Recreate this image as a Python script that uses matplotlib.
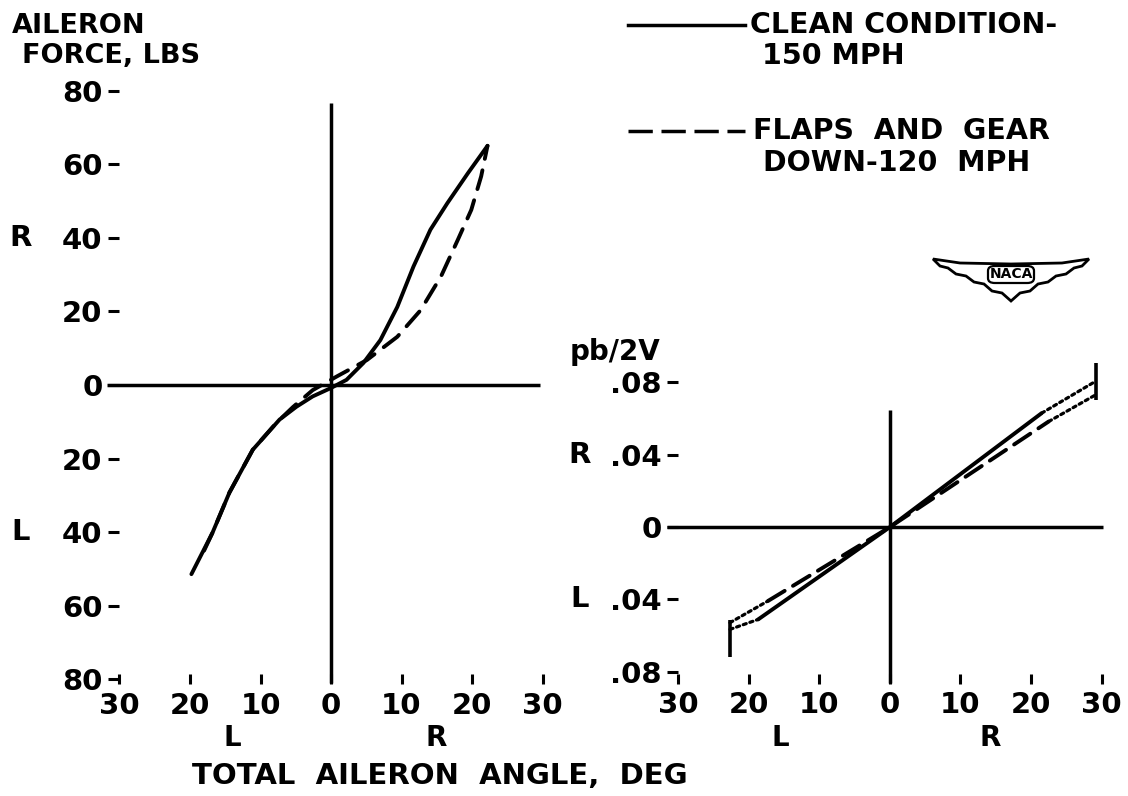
import matplotlib.pyplot as plt
from matplotlib.lines import Line2D
from matplotlib.patches import Polygon, FancyBboxPatch

plt.rcParams['font.family'] = ['DejaVu Sans']
plt.rcParams['font.weight'] = 'bold'

# ---- data ----
# left: aileron force (lb) vs total aileron angle (deg), L negative / R positive
clean_angle = [-19.8, -16.8, -14.4, -11.1, -7.3, -4.9, -2.6, -0.1, 2.2, 4.6, 7.0, 9.4, 11.7, 14.1, 16.5, 19.4, 22.2]
clean_force = [-51.4, -40.1, -29.2, -17.6, -9.4, -5.9, -3.1, -0.9, 1.4, 6.0, 12.2, 21.2, 32.2, 42.2, 49.4, 57.5, 65.0]
flaps_angle = [-18.0, -16.8, -14.4, -11.1, -7.8, -5.4, -2.6, 0.8, 5.1, 9.4, 12.7, 15.6, 18.0, 19.9, 21.3, 22.2]
flaps_force = [-45.0, -40.1, -29.2, -17.6, -10.4, -6.0, -1.4, 2.3, 6.8, 13.1, 20.3, 29.5, 39.5, 47.6, 56.7, 65.0]

# right: pb/2V vs total aileron angle, measured range + dotted extension to max deflection
clean_pb_angle = [-18.7, 0.0, 21.5]
clean_pb = [-0.0510, 0.0, 0.0628]
clean_ext_angle = [[-22.7, -18.7], [21.5, 29.2]]
clean_ext_pb = [[-0.0565, -0.0510], [0.0628, 0.0805]]
flaps_pb_angle = [-17.3, 0.0, 22.5]
flaps_pb = [-0.0408, 0.0, 0.0582]
flaps_ext_angle = [[-22.7, -17.3], [22.5, 29.2]]
flaps_ext_pb = [[-0.0528, -0.0408], [0.0582, 0.0730]]
max_defl = [-22.7, 29.2]
max_lo = [-0.0720, 0.0701]
max_hi = [-0.0515, 0.0904]

x_ticks = [-30, -20, -10, 0, 10, 20, 30]
x_labels = ['30', '20', '10', '0', '10', '20', '30']
force_ticks = [80, 60, 40, 20, 0, -20, -40, -60, -80]
force_labels = ['80', '60', '40', '20', '0', '20', '40', '60', '80']
pb_ticks = [0.08, 0.04, 0.0, -0.04, -0.08]
pb_labels = ['.08', '.04', '0', '.04', '.08']

W, H = 1128, 796
fig = plt.figure(figsize=(W / 100, H / 100), dpi=100)


def place(x0, sx, y0, sy, xlim, ylim):
    # axes rect from pixel origin + pixels per unit
    left = x0 + sx * xlim[0]
    right = x0 + sx * xlim[1]
    top = y0 - sy * ylim[1]
    bottom = y0 - sy * ylim[0]
    ax = fig.add_axes([left / W, 1 - bottom / H, (right - left) / W, (bottom - top) / H])
    ax.set_xlim(xlim)
    ax.set_ylim(ylim)
    ax.patch.set_visible(False)
    return ax


def style(ax, xspine, yspine, yticks, ylabels):
    for s in ax.spines.values():
        s.set_visible(False)
    ax.spines['left'].set_position(('data', xspine))
    ax.spines['bottom'].set_position(('data', yspine))
    ax.set_xticks(x_ticks, x_labels)
    ax.set_yticks(yticks, ylabels)
    ax.tick_params(axis='x', direction='out', length=7.5, width=2.2, pad=5, labelsize=21)
    ax.tick_params(axis='y', direction='out', length=7.8, width=2.2, pad=4.5, labelsize=21)


lw = 2.8

# ---- left chart ----
ax1 = place(331, 7.05, 385, 3.68, (-34, 32), (-90, 82))
style(ax1, -30, -78.6, force_ticks, force_labels)
ax1.hlines(0, -31.8, 29.6, color='black', lw=2.5)
ax1.vlines(0, -81, 76.6, color='black', lw=2.5)
ax1.plot(clean_angle, clean_force, color='black', lw=lw, solid_capstyle='round', solid_joinstyle='round')
ax1.plot(flaps_angle, flaps_force, color='black', lw=lw, dashes=(5, 3), dash_capstyle='round')
ax1.text(-44, 40, 'R', fontsize=21, ha='center', va='center')
ax1.text(-44, -40, 'L', fontsize=21, ha='center', va='center')

# ---- right chart ----
ax2 = place(890, 7.05, 527, 1812, (-34, 32), (-0.09, 0.1))
style(ax2, -30, -0.081, pb_ticks, pb_labels)
ax2.hlines(0, -31.6, 30.2, color='black', lw=2.5)
ax2.vlines(0, -0.086, 0.0646, color='black', lw=2.5)
ax2.plot(clean_pb_angle, clean_pb, color='black', lw=lw, solid_capstyle='round')
ax2.plot(flaps_pb_angle, flaps_pb, color='black', lw=lw, dashes=(5, 2.5), dash_capstyle='round')
for xs, ys in zip(clean_ext_angle + flaps_ext_angle, clean_ext_pb + flaps_ext_pb):
    ax2.plot(xs, ys, color='black', lw=2.3, dashes=(1, 1.2), dash_capstyle='round')
ax2.vlines(max_defl, max_lo, max_hi, color='black', lw=2.6)
ax2.text(-44, 0.04, 'R', fontsize=21, ha='center', va='center')
ax2.text(-44, -0.04, 'L', fontsize=21, ha='center', va='center')


def ftext(x, y, s, **kw):
    fig.text(x / W, 1 - y / H, s, va='center', **kw)


# axis titles
ftext(12, 26, 'AILERON', fontsize=19.5)
ftext(22, 56, 'FORCE, LBS', fontsize=19.5)
ftext(615, 352, 'pb/2V', fontsize=20, ha='center')
ftext(232, 738, 'L', fontsize=20, ha='center')
ftext(436, 738, 'R', fontsize=20, ha='center')
ftext(780, 738, 'L', fontsize=20, ha='center')
ftext(990, 738, 'R', fontsize=20, ha='center')
ftext(440, 776, 'TOTAL  AILERON  ANGLE,  DEG', fontsize=21, ha='center')

# legend
fig.add_artist(Line2D([628 / W, 745 / W], [1 - 25 / H, 1 - 25 / H], color='black', lw=2.5))
fig.add_artist(Line2D([628 / W, 745 / W], [1 - 131 / H, 1 - 131 / H], color='black', lw=2.5,
                      dashes=(7, 2.5)))
ftext(750, 25, 'CLEAN CONDITION-', fontsize=20.5)
ftext(762, 56, '150 MPH', fontsize=20.5)
ftext(753, 131, 'FLAPS  AND  GEAR', fontsize=20.5)
ftext(763, 163, 'DOWN-120  MPH', fontsize=20.5)

# NACA wing badge
wing = [(933, 259), (960, 263), (1011, 264), (1062, 263), (1089, 259), (1082, 266), (1074, 268),
        (1066, 274), (1056, 276), (1048, 282), (1038, 284), (1030, 291), (1020, 293), (1011, 301),
        (1002, 293), (992, 291), (984, 284), (974, 282), (966, 276), (956, 274), (948, 268),
        (940, 266)]
fig.add_artist(Polygon([(x / W, 1 - y / H) for x, y in wing], closed=True,
                       transform=fig.transFigure, facecolor='white', edgecolor='black', lw=2))
fig.add_artist(FancyBboxPatch((988 / W, 1 - 283 / H), 46 / W, 17 / H,
                              boxstyle='round,pad=0,rounding_size=0.006', transform=fig.transFigure,
                              facecolor='white', edgecolor='black', lw=1.6))
ftext(1011, 274, 'NACA', fontsize=10, ha='center', color='black')

fig.savefig('out.png', dpi=100)
